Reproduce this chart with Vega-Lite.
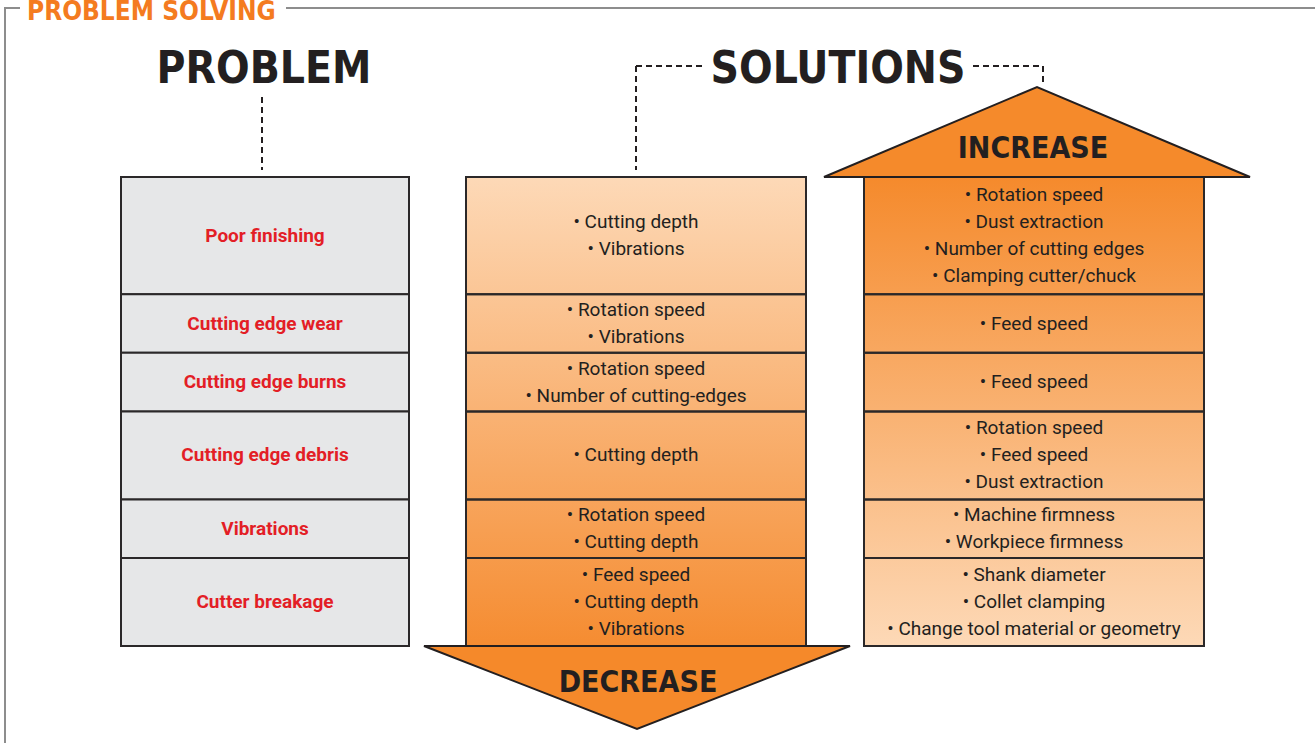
{
  "$schema": "https://vega.github.io/schema/vega-lite/v6.json",
  "width": 1315,
  "height": 743,
  "autosize": "none",
  "padding": 0,
  "background": "#ffffff",
  "view": {"stroke": null},
  "datasets": {
    "rows": [
      {"order": 1, "problem": "Poor finishing", "decrease": "• Cutting depth\n• Vibrations", "increase": "• Rotation speed\n• Dust extraction\n• Number of cutting edges\n• Clamping cutter/chuck", "lines": 4},
      {"order": 2, "problem": "Cutting edge wear", "decrease": "• Rotation speed\n• Vibrations", "increase": "• Feed speed", "lines": 2},
      {"order": 3, "problem": "Cutting edge burns", "decrease": "• Rotation speed\n• Number of cutting-edges", "increase": "• Feed speed", "lines": 2},
      {"order": 4, "problem": "Cutting edge debris", "decrease": "• Cutting depth", "increase": "• Rotation speed\n• Feed speed\n• Dust extraction", "lines": 3},
      {"order": 5, "problem": "Vibrations", "decrease": "• Rotation speed\n• Cutting depth", "increase": "• Machine firmness\n• Workpiece firmness", "lines": 2},
      {"order": 6, "problem": "Cutter breakage", "decrease": "• Feed speed\n• Cutting depth\n• Vibrations", "increase": "• Shank diameter\n• Collet clamping\n• Change tool material or geometry", "lines": 3}
    ]
  },
  "layer": [
    {
      "data": {"values": [{"column": "decrease"}]},
      "mark": {"type": "rect", "fill": {"gradient": "linear", "x1": 0, "y1": 0, "x2": 0, "y2": 1, "stops": [{"offset": 0, "color": "#fdd9b7"}, {"offset": 1, "color": "#f58c31"}]}},
      "encoding": {
        "x": {"datum": 466, "type": "quantitative", "scale": {"domain": [0, 1315], "nice": false, "zero": false, "padding": 0}, "axis": null},
        "x2": {"datum": 806},
        "y": {"datum": 0, "type": "quantitative", "scale": {"domain": [-6.0384, 19.3092], "nice": false, "zero": false, "reverse": true, "padding": 0}, "axis": null},
        "y2": {"datum": 16}
      }
    },
    {
      "data": {"values": [{"column": "increase"}]},
      "mark": {"type": "rect", "fill": {"gradient": "linear", "x1": 0, "y1": 0, "x2": 0, "y2": 1, "stops": [{"offset": 0, "color": "#f58a2c"}, {"offset": 1, "color": "#fdd9b7"}]}},
      "encoding": {
        "x": {"datum": 864, "type": "quantitative", "axis": null},
        "x2": {"datum": 1204},
        "y": {"datum": 0, "type": "quantitative", "axis": null},
        "y2": {"datum": 16}
      }
    },
    {
      "data": {"name": "rows"},
      "mark": {"type": "bar", "orient": "vertical", "fill": "#e6e7e8", "stroke": "#2b2829", "strokeWidth": 2},
      "encoding": {
        "x": {"datum": 121, "type": "quantitative", "axis": null},
        "x2": {"datum": 409},
        "y": {"field": "lines", "type": "quantitative", "stack": "zero", "axis": null},
        "order": {"field": "order", "type": "quantitative"},
        "detail": {"field": "problem", "type": "nominal"}
      }
    },
    {
      "data": {"name": "rows"},
      "mark": {"type": "bar", "orient": "vertical", "fill": "#ffffff", "fillOpacity": 0, "stroke": "#2b2829", "strokeWidth": 2},
      "encoding": {
        "x": {"datum": 466, "type": "quantitative", "axis": null},
        "x2": {"datum": 806},
        "y": {"field": "lines", "type": "quantitative", "stack": "zero", "axis": null},
        "order": {"field": "order", "type": "quantitative"},
        "detail": {"field": "problem", "type": "nominal"}
      }
    },
    {
      "data": {"name": "rows"},
      "mark": {"type": "bar", "orient": "vertical", "fill": "#ffffff", "fillOpacity": 0, "stroke": "#2b2829", "strokeWidth": 2},
      "encoding": {
        "x": {"datum": 864, "type": "quantitative", "axis": null},
        "x2": {"datum": 1204},
        "y": {"field": "lines", "type": "quantitative", "stack": "zero", "axis": null},
        "order": {"field": "order", "type": "quantitative"},
        "detail": {"field": "problem", "type": "nominal"}
      }
    },
    {
      "data": {"name": "rows"},
      "mark": {"type": "text", "font": "Roboto", "fontSize": 19, "fontWeight": "bold", "color": "#e31e26", "align": "center", "baseline": "middle"},
      "encoding": {
        "x": {"datum": 265, "type": "quantitative", "axis": null},
        "y": {"field": "lines", "type": "quantitative", "stack": "zero", "bandPosition": 0.5, "axis": null},
        "order": {"field": "order", "type": "quantitative"},
        "detail": {"field": "problem", "type": "nominal"},
        "text": {"field": "problem", "type": "nominal"}
      }
    },
    {
      "data": {"name": "rows"},
      "mark": {"type": "text", "font": "Roboto", "fontSize": 19, "color": "#231f20", "align": "center", "baseline": "middle", "lineBreak": "\n", "lineHeight": 27, "dy": 0},
      "encoding": {
        "x": {"datum": 636, "type": "quantitative", "axis": null},
        "y": {"field": "lines", "type": "quantitative", "stack": "zero", "bandPosition": 0.5, "axis": null},
        "order": {"field": "order", "type": "quantitative"},
        "detail": {"field": "problem", "type": "nominal"},
        "text": {"condition": {"test": "length(split(datum.decrease, '\\n')) == 1", "field": "decrease", "type": "nominal"}, "value": ""}
      }
    },
    {
      "data": {"name": "rows"},
      "mark": {"type": "text", "font": "Roboto", "fontSize": 19, "color": "#231f20", "align": "center", "baseline": "middle", "lineBreak": "\n", "lineHeight": 27, "dy": -13.5},
      "encoding": {
        "x": {"datum": 636, "type": "quantitative", "axis": null},
        "y": {"field": "lines", "type": "quantitative", "stack": "zero", "bandPosition": 0.5, "axis": null},
        "order": {"field": "order", "type": "quantitative"},
        "detail": {"field": "problem", "type": "nominal"},
        "text": {"condition": {"test": "length(split(datum.decrease, '\\n')) == 2", "field": "decrease", "type": "nominal"}, "value": ""}
      }
    },
    {
      "data": {"name": "rows"},
      "mark": {"type": "text", "font": "Roboto", "fontSize": 19, "color": "#231f20", "align": "center", "baseline": "middle", "lineBreak": "\n", "lineHeight": 27, "dy": -27},
      "encoding": {
        "x": {"datum": 636, "type": "quantitative", "axis": null},
        "y": {"field": "lines", "type": "quantitative", "stack": "zero", "bandPosition": 0.5, "axis": null},
        "order": {"field": "order", "type": "quantitative"},
        "detail": {"field": "problem", "type": "nominal"},
        "text": {"condition": {"test": "length(split(datum.decrease, '\\n')) == 3", "field": "decrease", "type": "nominal"}, "value": ""}
      }
    },
    {
      "data": {"name": "rows"},
      "mark": {"type": "text", "font": "Roboto", "fontSize": 19, "color": "#231f20", "align": "center", "baseline": "middle", "lineBreak": "\n", "lineHeight": 27, "dy": 0},
      "encoding": {
        "x": {"datum": 1034, "type": "quantitative", "axis": null},
        "y": {"field": "lines", "type": "quantitative", "stack": "zero", "bandPosition": 0.5, "axis": null},
        "order": {"field": "order", "type": "quantitative"},
        "detail": {"field": "problem", "type": "nominal"},
        "text": {"condition": {"test": "length(split(datum.increase, '\\n')) == 1", "field": "increase", "type": "nominal"}, "value": ""}
      }
    },
    {
      "data": {"name": "rows"},
      "mark": {"type": "text", "font": "Roboto", "fontSize": 19, "color": "#231f20", "align": "center", "baseline": "middle", "lineBreak": "\n", "lineHeight": 27, "dy": -13.5},
      "encoding": {
        "x": {"datum": 1034, "type": "quantitative", "axis": null},
        "y": {"field": "lines", "type": "quantitative", "stack": "zero", "bandPosition": 0.5, "axis": null},
        "order": {"field": "order", "type": "quantitative"},
        "detail": {"field": "problem", "type": "nominal"},
        "text": {"condition": {"test": "length(split(datum.increase, '\\n')) == 2", "field": "increase", "type": "nominal"}, "value": ""}
      }
    },
    {
      "data": {"name": "rows"},
      "mark": {"type": "text", "font": "Roboto", "fontSize": 19, "color": "#231f20", "align": "center", "baseline": "middle", "lineBreak": "\n", "lineHeight": 27, "dy": -27},
      "encoding": {
        "x": {"datum": 1034, "type": "quantitative", "axis": null},
        "y": {"field": "lines", "type": "quantitative", "stack": "zero", "bandPosition": 0.5, "axis": null},
        "order": {"field": "order", "type": "quantitative"},
        "detail": {"field": "problem", "type": "nominal"},
        "text": {"condition": {"test": "length(split(datum.increase, '\\n')) == 3", "field": "increase", "type": "nominal"}, "value": ""}
      }
    },
    {
      "data": {"name": "rows"},
      "mark": {"type": "text", "font": "Roboto", "fontSize": 19, "color": "#231f20", "align": "center", "baseline": "middle", "lineBreak": "\n", "lineHeight": 27, "dy": -40.5},
      "encoding": {
        "x": {"datum": 1034, "type": "quantitative", "axis": null},
        "y": {"field": "lines", "type": "quantitative", "stack": "zero", "bandPosition": 0.5, "axis": null},
        "order": {"field": "order", "type": "quantitative"},
        "detail": {"field": "problem", "type": "nominal"},
        "text": {"condition": {"test": "length(split(datum.increase, '\\n')) == 4", "field": "increase", "type": "nominal"}, "value": ""}
      }
    },
    {
      "data": {"values": [{"part": "frame top left"}]},
      "mark": {"type": "rule", "stroke": "#8d8d8d", "strokeWidth": 2},
      "encoding": {
        "x": {"datum": 5, "type": "quantitative", "axis": null},
        "x2": {"datum": 20},
        "y": {"datum": -5.7655, "type": "quantitative", "axis": null}
      }
    },
    {
      "data": {"values": [{"part": "frame top right"}]},
      "mark": {"type": "rule", "stroke": "#8d8d8d", "strokeWidth": 2},
      "encoding": {
        "x": {"datum": 286, "type": "quantitative", "axis": null},
        "x2": {"datum": 1315},
        "y": {"datum": -5.7655, "type": "quantitative", "axis": null}
      }
    },
    {
      "data": {"values": [{"part": "frame left"}]},
      "mark": {"type": "rule", "stroke": "#8d8d8d", "strokeWidth": 2},
      "encoding": {
        "x": {"datum": 5, "type": "quantitative", "axis": null},
        "y": {"datum": -5.7996, "type": "quantitative", "axis": null},
        "y2": {"datum": 19.3092}
      }
    },
    {
      "data": {"values": [{"label": "PROBLEM SOLVING"}]},
      "mark": {"type": "text", "font": "DejaVu Sans Condensed, Roboto", "fontWeight": "bold", "fontSize": 26, "color": "#f47b20", "align": "left", "baseline": "alphabetic"},
      "encoding": {
        "x": {"datum": 27, "type": "quantitative", "axis": null},
        "y": {"datum": -5.3561, "type": "quantitative", "axis": null},
        "text": {"field": "label", "type": "nominal"}
      }
    },
    {
      "data": {"values": [{"label": "PROBLEM"}]},
      "mark": {"type": "text", "font": "DejaVu Sans Condensed, Roboto", "fontWeight": "bold", "fontSize": 44, "color": "#231f20", "align": "center", "baseline": "alphabetic"},
      "encoding": {
        "x": {"datum": 264, "type": "quantitative", "axis": null},
        "y": {"datum": -3.2068, "type": "quantitative", "axis": null},
        "text": {"field": "label", "type": "nominal"}
      }
    },
    {
      "data": {"values": [{"label": "SOLUTIONS"}]},
      "mark": {"type": "text", "font": "DejaVu Sans Condensed, Roboto", "fontWeight": "bold", "fontSize": 44, "color": "#231f20", "align": "center", "baseline": "alphabetic"},
      "encoding": {
        "x": {"datum": 838, "type": "quantitative", "axis": null},
        "y": {"datum": -3.2068, "type": "quantitative", "axis": null},
        "text": {"field": "label", "type": "nominal"}
      }
    },
    {
      "data": {"values": [{"part": "problem connector"}]},
      "mark": {"type": "rule", "stroke": "#231f20", "strokeWidth": 2, "strokeDash": [6, 4]},
      "encoding": {
        "x": {"datum": 262, "type": "quantitative", "axis": null},
        "y": {"datum": -2.7292, "type": "quantitative", "axis": null},
        "y2": {"datum": -0.2388}
      }
    },
    {
      "data": {"values": [{"part": "solutions connector left vertical"}]},
      "mark": {"type": "rule", "stroke": "#231f20", "strokeWidth": 2, "strokeDash": [6, 4]},
      "encoding": {
        "x": {"datum": 636, "type": "quantitative", "axis": null},
        "y": {"datum": -3.7868, "type": "quantitative", "axis": null},
        "y2": {"datum": -0.2388}
      }
    },
    {
      "data": {"values": [{"part": "solutions connector left horizontal"}]},
      "mark": {"type": "rule", "stroke": "#231f20", "strokeWidth": 2, "strokeDash": [6, 4]},
      "encoding": {
        "x": {"datum": 636, "type": "quantitative", "axis": null},
        "x2": {"datum": 703},
        "y": {"datum": -3.7868, "type": "quantitative", "axis": null}
      }
    },
    {
      "data": {"values": [{"part": "solutions connector right horizontal"}]},
      "mark": {"type": "rule", "stroke": "#231f20", "strokeWidth": 2, "strokeDash": [6, 4]},
      "encoding": {
        "x": {"datum": 973, "type": "quantitative", "axis": null},
        "x2": {"datum": 1043},
        "y": {"datum": -3.7868, "type": "quantitative", "axis": null}
      }
    },
    {
      "data": {"values": [{"part": "solutions connector right vertical"}]},
      "mark": {"type": "rule", "stroke": "#231f20", "strokeWidth": 2, "strokeDash": [6, 4]},
      "encoding": {
        "x": {"datum": 1043, "type": "quantitative", "axis": null},
        "y": {"datum": -3.7868, "type": "quantitative", "axis": null},
        "y2": {"datum": -3.1045}
      }
    },
    {
      "data": {"values": [{"label": "INCREASE"}]},
      "mark": {"type": "point", "shape": "M-1,0.2113L0,-0.2113L1,0.2113Z", "size": 181476, "filled": true, "fill": "#f58a2b", "stroke": "#231f20", "strokeWidth": 2, "opacity": 1},
      "encoding": {
        "x": {"datum": 1037, "type": "quantitative", "axis": null},
        "y": {"datum": -1.5352, "type": "quantitative", "axis": null}
      }
    },
    {
      "data": {"values": [{"label": "INCREASE"}]},
      "mark": {"type": "text", "font": "DejaVu Sans Condensed, Roboto", "fontWeight": "bold", "fontSize": 30, "color": "#231f20", "align": "center", "baseline": "alphabetic"},
      "encoding": {
        "x": {"datum": 1033, "type": "quantitative", "axis": null},
        "y": {"datum": -0.6482, "type": "quantitative", "axis": null},
        "text": {"field": "label", "type": "nominal"}
      }
    },
    {
      "data": {"values": [{"label": "DECREASE"}]},
      "mark": {"type": "point", "shape": "M-1,-0.1948L1,-0.1948L0,0.1948Z", "size": 181476, "filled": true, "fill": "#f5892a", "stroke": "#231f20", "strokeWidth": 2, "opacity": 1},
      "encoding": {
        "x": {"datum": 637, "type": "quantitative", "axis": null},
        "y": {"datum": 17.4158, "type": "quantitative", "axis": null}
      }
    },
    {
      "data": {"values": [{"label": "DECREASE"}]},
      "mark": {"type": "text", "font": "DejaVu Sans Condensed, Roboto", "fontWeight": "bold", "fontSize": 30, "color": "#231f20", "align": "center", "baseline": "alphabetic"},
      "encoding": {
        "x": {"datum": 638, "type": "quantitative", "axis": null},
        "y": {"datum": 17.5693, "type": "quantitative", "axis": null},
        "text": {"field": "label", "type": "nominal"}
      }
    }
  ]
}
